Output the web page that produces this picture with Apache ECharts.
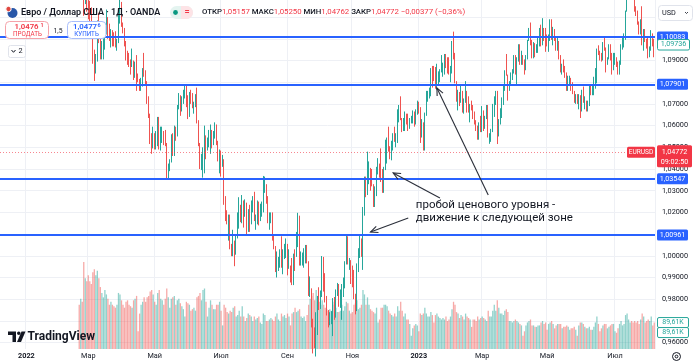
<!DOCTYPE html>
<html><head><meta charset="utf-8">
<script src="https://cdn.jsdelivr.net/npm/echarts@6/dist/echarts.min.js"></script>
<style>html,body{margin:0;padding:0;background:#fff}#c{width:696px;height:363px}</style>
</head><body><div id="c"></div>
<script>
// ---------- data ----------
const slotStart = '2021-12-09';   // first (empty) trading-day slot on the time axis
const slotCount = 434;
const dataStart = '2022-02-21';   // first daily candle
// daily candles [open, high, low, close], one line per month
const ohlc = [
// 2022-02
[1.1320,1.1365,1.1290,1.1310],[1.1310,1.1360,1.1290,1.1310],[1.1310,1.1345,1.1300,1.1307],[1.1307,1.1320,1.1106,1.1193],[1.1193,1.1275,1.1160,1.1270],[1.1270,1.1280,1.1125,1.1220],
// 2022-03
[1.1220,1.1235,1.1090,1.1125],[1.1125,1.1175,1.1060,1.1120],[1.1120,1.1145,1.1035,1.1065],[1.1065,1.1070,1.0885,1.0930],[1.0930,1.0950,1.0806,1.0855],[1.0855,1.0930,1.0840,1.0900],[1.0900,1.1085,1.0895,1.1075],[1.1075,1.1120,1.0980,1.0985],[1.0985,1.1050,1.0905,1.0910],[1.0910,1.0990,1.0905,1.0940],[1.0940,1.1005,1.0905,1.0955],[1.0955,1.1045,1.0950,1.1035],[1.1035,1.1135,1.1020,1.1095],[1.1095,1.1100,1.1000,1.1050],[1.1050,1.1070,1.0990,1.1015],[1.1015,1.1045,1.0960,1.1030],[1.1030,1.1040,1.0965,1.1000],[1.1000,1.1030,1.0965,1.0995],[1.0995,1.1035,1.0960,1.0985],[1.0985,1.1000,1.0945,1.0985],[1.0985,1.1135,1.0980,1.1085],[1.1085,1.1185,1.1070,1.1160],[1.1160,1.1170,1.1055,1.1065],
// 2022-04
[1.1065,1.1075,1.1025,1.1045],[1.1045,1.1050,1.0965,1.0970],[1.0970,1.0990,1.0900,1.0905],[1.0905,1.0945,1.0880,1.0900],[1.0900,1.0935,1.0870,1.0880],[1.0880,1.0905,1.0835,1.0875],[1.0875,1.0955,1.0870,1.0885],[1.0885,1.0900,1.0810,1.0830],[1.0830,1.0895,1.0820,1.0890],[1.0890,1.0925,1.0760,1.0825],[1.0825,1.0840,1.0800,1.0810],[1.0810,1.0815,1.0760,1.0780],[1.0780,1.0820,1.0760,1.0790],[1.0790,1.0865,1.0780,1.0850],[1.0850,1.0935,1.0825,1.0835],[1.0835,1.0855,1.0785,1.0800],[1.0800,1.0805,1.0700,1.0715],[1.0715,1.0735,1.0635,1.0640],[1.0640,1.0655,1.0515,1.0560],[1.0560,1.0565,1.0470,1.0500],[1.0500,1.0595,1.0495,1.0545],
// 2022-05
[1.0545,1.0565,1.0490,1.0505],[1.0505,1.0575,1.0490,1.0525],[1.0525,1.0640,1.0505,1.0620],[1.0620,1.0640,1.0490,1.0540],[1.0540,1.0595,1.0485,1.0550],[1.0550,1.0595,1.0520,1.0560],[1.0560,1.0575,1.0510,1.0530],[1.0530,1.0580,1.0505,1.0515],[1.0515,1.0520,1.0350,1.0380],[1.0380,1.0425,1.0350,1.0410],[1.0410,1.0445,1.0390,1.0435],[1.0435,1.0560,1.0430,1.0550],[1.0550,1.0565,1.0460,1.0465],[1.0465,1.0600,1.0460,1.0585],[1.0585,1.0595,1.0530,1.0560],[1.0560,1.0695,1.0550,1.0690],[1.0690,1.0750,1.0675,1.0735],[1.0735,1.0740,1.0645,1.0680],[1.0680,1.0735,1.0665,1.0725],[1.0725,1.0765,1.0700,1.0735],[1.0735,1.0787,1.0725,1.0780],[1.0780,1.0785,1.0685,1.0735],
// 2022-06
[1.0735,1.0740,1.0630,1.0650],[1.0650,1.0755,1.0640,1.0750],[1.0750,1.0765,1.0700,1.0720],[1.0720,1.0750,1.0680,1.0695],[1.0695,1.0710,1.0655,1.0705],[1.0705,1.0745,1.0685,1.0715],[1.0715,1.0775,1.0610,1.0615],[1.0615,1.0625,1.0505,1.0520],[1.0520,1.0520,1.0400,1.0410],[1.0410,1.0470,1.0395,1.0415],[1.0415,1.0500,1.0360,1.0445],[1.0445,1.0600,1.0380,1.0550],[1.0550,1.0555,1.0445,1.0495],[1.0495,1.0545,1.0485,1.0510],[1.0510,1.0580,1.0500,1.0535],[1.0535,1.0605,1.0470,1.0565],[1.0565,1.0580,1.0495,1.0520],[1.0520,1.0575,1.0510,1.0555],[1.0555,1.0615,1.0540,1.0585],[1.0585,1.0605,1.0510,1.0520],[1.0520,1.0530,1.0435,1.0445],[1.0445,1.0490,1.0380,1.0480],
// 2022-07
[1.0480,1.0485,1.0365,1.0425],[1.0425,1.0465,1.0410,1.0425],[1.0425,1.0445,1.0235,1.0265],[1.0265,1.0275,1.0160,1.0180],[1.0180,1.0210,1.0145,1.0160],[1.0160,1.0190,1.0070,1.0185],[1.0185,1.0190,1.0030,1.0040],[1.0040,1.0055,0.9998,1.0035],[1.0035,1.0120,0.9998,1.0060],[1.0060,1.0070,0.9952,1.0020],[1.0020,1.0095,1.0005,1.0085],[1.0085,1.0200,1.0080,1.0145],[1.0145,1.0270,1.0125,1.0225],[1.0225,1.0235,1.0155,1.0180],[1.0180,1.0280,1.0150,1.0230],[1.0230,1.0255,1.0130,1.0210],[1.0210,1.0260,1.0180,1.0225],[1.0225,1.0245,1.0095,1.0120],[1.0120,1.0215,1.0110,1.0200],[1.0200,1.0235,1.0110,1.0195],[1.0195,1.0255,1.0145,1.0220],
// 2022-08
[1.0220,1.0275,1.0200,1.0260],[1.0260,1.0295,1.0160,1.0165],[1.0165,1.0190,1.0120,1.0165],[1.0165,1.0255,1.0145,1.0245],[1.0245,1.0250,1.0140,1.0180],[1.0180,1.0240,1.0160,1.0195],[1.0195,1.0250,1.0180,1.0210],[1.0210,1.0368,1.0200,1.0300],[1.0300,1.0365,1.0290,1.0320],[1.0320,1.0330,1.0240,1.0260],[1.0260,1.0275,1.0150,1.0160],[1.0160,1.0200,1.0120,1.0170],[1.0170,1.0200,1.0150,1.0180],[1.0180,1.0200,1.0070,1.0090],[1.0090,1.0095,1.0030,1.0040],[1.0040,1.0045,0.9925,0.9940],[0.9940,1.0020,0.9900,0.9970],[0.9970,0.9995,0.9930,0.9970],[0.9970,1.0030,0.9945,0.9975],[0.9975,1.0090,0.9945,0.9965],[0.9965,1.0030,0.9915,1.0000],[1.0000,1.0055,0.9985,1.0015],[1.0015,1.0080,0.9990,1.0055],
// 2022-09
[1.0055,1.0055,0.9910,0.9945],[0.9945,1.0030,0.9940,0.9955],[0.9955,0.9955,0.9877,0.9930],[0.9930,0.9990,0.9865,0.9900],[0.9900,1.0010,0.9865,1.0010],[1.0010,1.0030,0.9930,1.0000],[1.0000,1.0110,0.9995,1.0045],[1.0045,1.0198,1.0040,1.0120],[1.0120,1.0185,0.9955,0.9970],[0.9970,1.0020,0.9955,0.9980],[0.9980,1.0015,0.9955,0.9995],[0.9995,1.0035,0.9945,1.0015],[1.0015,1.0050,0.9965,1.0025],[1.0025,1.0050,0.9965,0.9970],[0.9970,0.9975,0.9815,0.9835],[0.9835,0.9905,0.9810,0.9840],[0.9840,0.9850,0.9670,0.9690],[0.9690,0.9710,0.9550,0.9605],[0.9605,0.9670,0.9575,0.9595],[0.9595,0.9740,0.9536,0.9735],[0.9735,0.9815,0.9635,0.9815],[0.9815,0.9855,0.9750,0.9800],
// 2022-10
[0.9800,0.9840,0.9755,0.9825],[0.9825,0.9999,0.9810,0.9985],[0.9985,0.9995,0.9835,0.9885],[0.9885,0.9920,0.9785,0.9790],[0.9790,0.9815,0.9725,0.9740],[0.9740,0.9750,0.9670,0.9705],[0.9705,0.9740,0.9680,0.9705],[0.9705,0.9745,0.9685,0.9705],[0.9705,0.9805,0.9630,0.9780],[0.9780,0.9810,0.9705,0.9720],[0.9720,0.9845,0.9715,0.9840],[0.9840,0.9875,0.9815,0.9855],[0.9855,0.9870,0.9765,0.9775],[0.9775,0.9845,0.9760,0.9780],[0.9780,0.9870,0.9705,0.9860],[0.9860,0.9900,0.9810,0.9875],[0.9875,0.9975,0.9850,0.9965],[0.9965,1.0093,0.9960,1.0080],[1.0080,1.0090,0.9960,0.9965],[0.9965,0.9990,0.9935,0.9965],[0.9965,0.9980,0.9870,0.9885],
// 2022-11
[0.9885,0.9955,0.9855,0.9875],[0.9875,0.9935,0.9800,0.9820],[0.9820,0.9825,0.9730,0.9750],[0.9750,0.9965,0.9745,0.9960],[0.9960,1.0035,0.9925,1.0020],[1.0020,1.0095,0.9990,1.0075],[1.0075,1.0080,0.9995,1.0010],[1.0010,1.0225,0.9935,1.0210],[1.0210,1.0365,1.0185,1.0355],[1.0355,1.0365,1.0270,1.0325],[1.0325,1.0480,1.0280,1.0350],[1.0350,1.0435,1.0330,1.0395],[1.0395,1.0405,1.0300,1.0365],[1.0365,1.0400,1.0320,1.0325],[1.0325,1.0330,1.0225,1.0240],[1.0240,1.0320,1.0225,1.0305],[1.0305,1.0410,1.0275,1.0395],[1.0395,1.0450,1.0375,1.0410],[1.0410,1.0425,1.0360,1.0400],[1.0400,1.0495,1.0340,1.0340],[1.0340,1.0400,1.0290,1.0330],[1.0330,1.0410,1.0290,1.0405],
// 2022-12
[1.0405,1.0535,1.0395,1.0525],[1.0525,1.0545,1.0425,1.0535],[1.0535,1.0595,1.0480,1.0490],[1.0490,1.0505,1.0445,1.0470],[1.0470,1.0530,1.0440,1.0505],[1.0505,1.0565,1.0485,1.0555],[1.0555,1.0595,1.0525,1.0530],[1.0530,1.0565,1.0500,1.0535],[1.0535,1.0675,1.0520,1.0630],[1.0630,1.0695,1.0615,1.0680],[1.0680,1.0735,1.0625,1.0625],[1.0625,1.0635,1.0570,1.0585],[1.0585,1.0635,1.0575,1.0605],[1.0605,1.0665,1.0575,1.0625],[1.0625,1.0655,1.0605,1.0610],[1.0610,1.0655,1.0575,1.0595],[1.0595,1.0635,1.0585,1.0615],[1.0615,1.0645,1.0610,1.0640],[1.0640,1.0670,1.0610,1.0640],[1.0640,1.0665,1.0595,1.0610],[1.0610,1.0675,1.0605,1.0660],[1.0660,1.0715,1.0650,1.0705],
// 2023-01
[1.0705,1.0710,1.0655,1.0670],[1.0670,1.0685,1.0520,1.0545],[1.0545,1.0630,1.0545,1.0605],[1.0605,1.0615,1.0485,1.0520],[1.0520,1.0660,1.0485,1.0645],[1.0645,1.0760,1.0645,1.0730],[1.0730,1.0760,1.0710,1.0735],[1.0735,1.0775,1.0725,1.0760],[1.0760,1.0865,1.0735,1.0850],[1.0850,1.0875,1.0775,1.0830],[1.0830,1.0875,1.0805,1.0820],[1.0820,1.0870,1.0770,1.0790],[1.0790,1.0885,1.0765,1.0795],[1.0795,1.0850,1.0785,1.0830],[1.0830,1.0860,1.0800,1.0855],[1.0855,1.0925,1.0845,1.0870],[1.0870,1.0890,1.0825,1.0885],[1.0885,1.0930,1.0835,1.0915],[1.0915,1.0930,1.0865,1.0890],[1.0890,1.0915,1.0840,1.0870],[1.0870,1.0915,1.0835,1.0845],[1.0845,1.0875,1.0800,1.0860],
// 2023-02
[1.0860,1.0990,1.0840,1.0990],[1.0990,1.1033,1.0905,1.0910],[1.0910,1.0935,1.0795,1.0795],[1.0795,1.0805,1.0710,1.0725],[1.0725,1.0765,1.0670,1.0725],[1.0725,1.0755,1.0690,1.0710],[1.0710,1.0790,1.0705,1.0740],[1.0740,1.0760,1.0660,1.0680],[1.0680,1.0725,1.0655,1.0725],[1.0725,1.0805,1.0705,1.0740],[1.0740,1.0760,1.0660,1.0685],[1.0685,1.0735,1.0660,1.0670],[1.0670,1.0700,1.0615,1.0695],[1.0695,1.0715,1.0670,1.0685],[1.0685,1.0695,1.0630,1.0645],[1.0645,1.0665,1.0605,1.0605],[1.0605,1.0625,1.0575,1.0595],[1.0595,1.0600,1.0535,1.0545],[1.0545,1.0615,1.0535,1.0610],[1.0610,1.0645,1.0570,1.0575],
// 2023-03
[1.0575,1.0690,1.0570,1.0665],[1.0665,1.0670,1.0575,1.0600],[1.0600,1.0645,1.0585,1.0635],[1.0635,1.0695,1.0630,1.0685],[1.0685,1.0695,1.0545,1.0545],[1.0545,1.0565,1.0516,1.0545],[1.0545,1.0585,1.0525,1.0580],[1.0580,1.0700,1.0570,1.0640],[1.0640,1.0735,1.0640,1.0730],[1.0730,1.0760,1.0695,1.0735],[1.0735,1.0760,1.0515,1.0575],[1.0575,1.0630,1.0550,1.0610],[1.0610,1.0680,1.0605,1.0670],[1.0670,1.0730,1.0635,1.0720],[1.0720,1.0790,1.0695,1.0770],[1.0770,1.0855,1.0760,1.0855],[1.0855,1.0930,1.0830,1.0830],[1.0830,1.0835,1.0715,1.0760],[1.0760,1.0805,1.0760,1.0800],[1.0800,1.0845,1.0785,1.0845],[1.0845,1.0860,1.0810,1.0845],[1.0845,1.0925,1.0840,1.0905],[1.0905,1.0925,1.0835,1.0840],
// 2023-04
[1.0840,1.0915,1.0790,1.0900],[1.0900,1.0975,1.0895,1.0955],[1.0955,1.0975,1.0880,1.0905],[1.0905,1.0945,1.0880,1.0920],[1.0920,1.0925,1.0880,1.0900],[1.0900,1.0905,1.0835,1.0860],[1.0860,1.0925,1.0855,1.0915],[1.0915,1.0995,1.0905,1.0995],[1.0995,1.1050,1.0990,1.1045],[1.1045,1.1075,1.0970,1.0990],[1.0990,1.0995,1.0910,1.0925],[1.0925,1.0985,1.0910,1.0970],[1.0970,1.0980,1.0915,1.0955],[1.0955,1.0975,1.0935,1.0965],[1.0965,1.1010,1.0935,1.0990],[1.0990,1.1050,1.0965,1.1050],[1.1050,1.1065,1.0965,1.0975],[1.0975,1.1095,1.0970,1.1040],[1.1040,1.1050,1.0990,1.1030],[1.1030,1.1050,1.0940,1.1020],
// 2023-05
[1.1020,1.1020,1.0965,1.0975],[1.0975,1.1020,1.0940,1.1000],[1.1000,1.1090,1.0990,1.1065],[1.1065,1.1090,1.0995,1.1010],[1.1010,1.1055,1.0970,1.1020],[1.1020,1.1045,1.0990,1.1005],[1.1005,1.1010,1.0945,1.0960],[1.0960,1.1005,1.0945,1.0980],[1.0980,1.0990,1.0905,1.0915],[1.0915,1.0925,1.0845,1.0850],[1.0850,1.0885,1.0835,1.0870],[1.0870,1.0905,1.0845,1.0860],[1.0860,1.0875,1.0820,1.0840],[1.0840,1.0845,1.0760,1.0770],[1.0770,1.0830,1.0760,1.0805],[1.0805,1.0830,1.0790,1.0810],[1.0810,1.0820,1.0760,1.0770],[1.0770,1.0800,1.0745,1.0750],[1.0750,1.0760,1.0705,1.0725],[1.0725,1.0745,1.0700,1.0725],[1.0725,1.0745,1.0700,1.0715],[1.0715,1.0745,1.0675,1.0735],[1.0735,1.0740,1.0635,1.0690],
// 2023-06
[1.0690,1.0765,1.0665,1.0760],[1.0760,1.0780,1.0705,1.0710],[1.0710,1.0735,1.0675,1.0715],[1.0715,1.0715,1.0665,1.0695],[1.0695,1.0715,1.0665,1.0700],[1.0700,1.0790,1.0690,1.0780],[1.0780,1.0790,1.0740,1.0750],[1.0750,1.0790,1.0740,1.0755],[1.0755,1.0825,1.0740,1.0790],[1.0790,1.0865,1.0770,1.0830],[1.0830,1.0955,1.0795,1.0945],[1.0945,1.0970,1.0925,1.0940],[1.0940,1.0945,1.0900,1.0920],[1.0920,1.0935,1.0895,1.0915],[1.0915,1.0985,1.0900,1.0975],[1.0975,1.1010,1.0945,1.0955],[1.0955,1.0960,1.0845,1.0895],[1.0895,1.0915,1.0880,1.0905],[1.0905,1.0975,1.0905,1.0960],[1.0960,1.0975,1.0900,1.0910],[1.0910,1.0935,1.0835,1.0865],[1.0865,1.0935,1.0855,1.0910],
// 2023-07
[1.0910,1.0935,1.0880,1.0910],[1.0910,1.0915,1.0870,1.0880],[1.0880,1.0895,1.0835,1.0850],[1.0850,1.0900,1.0835,1.0890],[1.0890,1.0975,1.0880,1.0965],[1.0965,1.1005,1.0950,1.0970],[1.0970,1.1025,1.0960,1.1010],[1.1010,1.1130,1.0995,1.1130],[1.1130,1.1225,1.1125,1.1225],[1.1225,1.1245,1.1205,1.1230],[1.1230,1.1245,1.1215,1.1235],[1.1235,1.1276,1.1215,1.1230],[1.1230,1.1235,1.1180,1.1200],[1.1200,1.1225,1.1125,1.1130],[1.1130,1.1150,1.1105,1.1125],[1.1125,1.1130,1.1065,1.1065],[1.1065,1.1080,1.1020,1.1055],[1.1055,1.1090,1.1020,1.1085],[1.1085,1.1150,1.0970,1.0975],[1.0975,1.1045,1.0945,1.1015],[1.1015,1.1045,1.0985,1.0995],
// 2023-08
[1.0995,1.1000,1.0955,1.0985],[1.0985,1.1005,1.0910,1.0935],[1.0935,1.0965,1.0915,1.0945],[1.0945,1.1040,1.0945,1.1005],[1.1005,1.1025,1.0965,1.1000],[1.1000,1.1000,1.0915,1.0955]
];
// daily volume, thousands
const volumes = [
150,170,160,295,240,230,
250,230,220,260,270,250,265,240,210,190,175,200,185,170,150,160,150,145,140,150,190,185,165,
150,140,160,165,150,145,140,165,170,180,60,120,150,160,175,160,175,180,195,200,185,
160,150,190,200,170,165,150,170,205,175,140,170,175,180,150,165,170,155,145,135,110,160,
155,150,130,135,140,130,175,180,190,165,200,205,160,110,140,165,150,135,135,150,150,160,
130,80,150,140,125,120,130,125,140,145,110,115,130,110,145,110,95,105,120,115,110,
95,110,100,105,110,90,85,120,115,95,95,100,105,100,95,110,120,100,95,120,110,115,105,
120,110,80,120,125,140,125,130,135,110,105,110,95,115,150,170,180,190,165,200,170,160,
150,165,150,140,135,130,135,130,160,150,140,125,125,130,150,130,145,160,155,130,120,
125,150,155,165,135,140,150,200,185,150,175,150,135,130,125,120,140,90,100,140,140,150,
150,145,130,120,115,110,120,110,145,130,160,130,110,120,100,100,85,45,70,80,85,80,
60,120,115,120,140,120,110,110,125,115,90,115,120,110,105,100,105,100,110,95,100,110,
135,160,150,125,120,105,115,110,100,120,110,105,100,75,100,100,95,110,100,105,
110,105,100,95,130,110,110,130,150,130,165,140,120,120,115,130,135,125,95,95,90,95,100,
95,90,85,80,45,60,80,90,95,100,80,80,75,75,80,80,90,95,85,90,
65,85,90,95,85,70,80,85,85,85,70,75,75,80,75,65,70,70,75,65,45,80,90,
90,85,75,70,70,75,65,65,75,90,110,85,60,70,80,85,85,70,75,80,85,85,
60,55,70,85,95,80,85,115,120,100,90,95,90,95,90,95,85,100,120,110,90,
95,100,95,110,80,90
];
const levels = [1.10083, 1.07901, 1.03547, 1.00961];
const lastPrice = 1.04772;
const lastTime = '09:02:50';
const visibleClose = 1.09736;
const volumeMark = 89.61;
const priceMin = 0.95705, priceMax = 1.11788, volumeMax = 505;
const priceTicks = [0.96,0.97,0.98,0.99,1.00,1.01,1.02,1.03,1.04,1.05,1.06,1.07,1.08,1.09,1.10,1.11];
const priceLabels = [0.96,0.97,0.98,0.99,1.00,1.02,1.03,1.04,1.05,1.06,1.07,1.09];
const monthLabels = {'2022-01-03':'2022','2022-03-01':'Мар','2022-05-02':'Май','2022-07-01':'Июл','2022-09-01':'Сен','2022-11-01':'Ноя','2023-01-02':'2023','2023-03-01':'Мар','2023-05-01':'Май','2023-07-03':'Июл'};
const arrowTails = [['2023-03-07',1.02802],['2023-01-20',1.02664],['2022-12-22',1.01742]];
const arrowTips  = [['2023-01-18',1.07733],['2022-12-08',1.03816],['2022-11-17',1.01097]];
const noteAnchor = ['2022-12-29',1.02341];
const noteLines = ['пробой ценового уровня -','движение к следующей зоне'];

// ---------- build ----------
const FONT = 'Roboto, "Noto Sans", "DejaVu Sans", sans-serif';
const UP = '#26a69a', DOWN = '#ef5350';
const dates = [];
(function(){ const p = slotStart.split('-').map(Number); const d = new Date(Date.UTC(p[0], p[1]-1, p[2]));
  while (dates.length < slotCount) { const wd = d.getUTCDay(); if (wd !== 0 && wd !== 6) dates.push(d.toISOString().slice(0,10)); d.setUTCDate(d.getUTCDate()+1); } })();
const first = dates.indexOf(dataStart);
const candleData = dates.map((d,i) => { const k = i - first; if (k < 0 || k >= ohlc.length) return '-'; const q = ohlc[k]; return [q[0], q[3], q[2], q[1]]; });
const volData = dates.map((d,i) => { const k = i - first; if (k < 0 || k >= volumes.length) return '-';
  const q = ohlc[k]; return {value: volumes[k], itemStyle: {color: q[3] >= q[0] ? 'rgba(38,166,154,0.5)' : 'rgba(239,83,80,0.5)'}}; });
const fmt = v => v.toFixed(5).replace('.', ',');

const chart = echarts.init(document.getElementById('c'), null, {renderer: 'canvas'});
chart.setOption({
  animation: false,
  backgroundColor: '#ffffff',
  textStyle: {fontFamily: FONT},
  grid: [{left: 0, top: 0, width: 655, height: 349}, {left: 0, top: 200, width: 655, height: 149}],
  xAxis: [
    {type: 'category', gridIndex: 0, data: dates, boundaryGap: true, axisLine: {show: false}, axisTick: {show: false}, axisLabel: {show: false},
     splitLine: {show: true, interval: (i, v) => !!monthLabels[v], lineStyle: {color: '#eef0f5', width: 1}}},
    {type: 'category', gridIndex: 1, data: dates, boundaryGap: true, axisLine: {show: false}, axisTick: {show: false}, splitLine: {show: false},
     axisLabel: {show: true, interval: (i, v) => !!monthLabels[v], margin: 4, fontSize: 7.3, color: '#131722', fontFamily: FONT,
       formatter: v => { const t = monthLabels[v]; if (!t) return ''; return /^\d/.test(t) ? '{y|' + t + '}' : t; },
       rich: {y: {fontWeight: 'bold', fontSize: 7.3, color: '#131722', fontFamily: FONT}}}}
  ],
  yAxis: [
    {type: 'value', gridIndex: 0, position: 'right', min: priceMin, max: priceMax, axisLine: {show: false},
     axisTick: {show: false, customValues: priceTicks},
     axisLabel: {customValues: priceLabels, formatter: v => fmt(v), fontSize: 7.3, color: '#131722', margin: 7, fontFamily: FONT},
     splitLine: {show: true, lineStyle: {color: '#eef0f5', width: 1}}},
    {type: 'value', gridIndex: 1, min: 0, max: volumeMax, show: false}
  ],
  series: [
    {type: 'bar', name: 'vol', xAxisIndex: 1, yAxisIndex: 1, data: volData, barCategoryGap: '15%', z: 1, silent: true},
    {type: 'candlestick', name: 'EURUSD', xAxisIndex: 0, yAxisIndex: 0, data: candleData, barWidth: 0.6, clip: true, z: 3, silent: true,
     itemStyle: {color: UP, color0: DOWN, borderColor: UP, borderColor0: DOWN, borderWidth: 1},
     markLine: {silent: true, precision: 5, symbol: ['none', 'none'], label: {show: false}, animation: false,
       data: levels.map(v => ({yAxis: v, lineStyle: {color: '#2962ff', width: 2, type: 'solid'}}))
         .concat([{yAxis: lastPrice, lineStyle: {color: '#f23645', width: 1, type: [1, 2], opacity: 0.6}}])}}
  ]
});

// ---------- overlays (positions from the chart's own scales) ----------
const yP = v => chart.convertToPixel({yAxisIndex: 0}, v);
const yV = v => chart.convertToPixel({yAxisIndex: 1}, v);
const xyP = (d, p) => chart.convertToPixel({gridIndex: 0}, [d, p]);
const T = (x, y, text, o) => ({type: 'text', z: 101, style: Object.assign({x: x, y: y, text: text, fill: '#131722', fontSize: 8, fontFamily: FONT, align: 'left', verticalAlign: 'middle'}, o || {})});
const R = (x, y, w, h, o) => { o = o || {}; return {type: 'rect', z: 100, shape: {x: x, y: y, width: w, height: h, r: o.r || 0}, style: {fill: o.fill || '#fff', stroke: o.stroke || null, lineWidth: o.lw || 1}}; };
const g = [];
// header
g.push({type: 'circle', z: 100, shape: {cx: 12.5, cy: 13, r: 5}, style: {fill: '#2857a8'}});
g.push({type: 'circle', z: 101, shape: {cx: 8.5, cy: 9, r: 2.7}, style: {fill: '#e0463f', stroke: '#fff', lineWidth: 1}});
g.push(T(21, 12.5, 'Евро / Доллар США · 1Д · OANDA', {fontSize: 9, fontWeight: 600}));
g.push(R(170, 6, 23, 13, {fill: '#e4f4f0', r: 6.5}));
g.push(R(181, 6, 12, 13, {fill: '#fde3e6', r: [0, 6.5, 6.5, 0]}));
g.push({type: 'circle', z: 101, shape: {cx: 175.5, cy: 12.5, r: 2.4}, style: {fill: '#089981'}});
g.push(T(187, 12.3, '=', {fill: '#f23645', fontSize: 9, fontWeight: 'bold', align: 'center'}));
g.push({type: 'text', z: 101, style: {x: 202, y: 12.5, verticalAlign: 'middle', fontFamily: FONT, fontSize: 7.8, fill: '#131722',
  text: '{l|ОТКР}{v|1,05157} {l|МАКС}{v|1,05250} {l|МИН}{v|1,04762} {l|ЗАКР}{v|1,04772} {v|−0,00377 (−0,36%)}',
  rich: {l: {fill: '#131722', fontSize: 7.8, fontFamily: FONT, fontWeight: 500}, v: {fill: '#f23645', fontSize: 7.8, fontFamily: FONT}}}});
// sell / buy
g.push(R(5.5, 21.5, 43, 17, {stroke: '#f5a3aa', r: 4}));
g.push(T(26.5, 27, '1,0476', {fill: '#f23645', fontSize: 7.8, fontWeight: 600, align: 'center'}));
g.push(T(42, 25.5, '1', {fill: '#f23645', fontSize: 5.5, fontWeight: 600, align: 'center'}));
g.push(T(27.5, 34.5, 'ПРОДАТЬ', {fill: '#f23645', fontSize: 6.3, align: 'center'}));
g.push(T(58, 31, '1,5', {fontSize: 6.8, align: 'center'}));
g.push(R(67.5, 21.5, 38.5, 17, {stroke: '#a8bdfb', r: 4}));
g.push(T(85, 27, '1,0477', {fill: '#2962ff', fontSize: 7.8, fontWeight: 600, align: 'center'}));
g.push(T(99, 25.5, '6', {fill: '#2962ff', fontSize: 5.5, fontWeight: 600, align: 'center'}));
g.push(T(86.5, 34.5, 'КУПИТЬ', {fill: '#2962ff', fontSize: 6.3, align: 'center'}));
g.push(R(8.5, 45.5, 17, 12, {stroke: '#e0e3eb', r: 2}));
g.push({type: 'polyline', z: 101, shape: {points: [[11.5, 50], [13.5, 52.3], [15.5, 50]]}, style: {stroke: '#131722', lineWidth: 1, fill: null}});
g.push(T(18.5, 51.5, '2', {fontSize: 7.3}));
// currency box
g.push(R(658.5, 5.5, 34, 15, {stroke: '#e0e3eb', r: 3}));
g.push(T(662, 13, 'USD', {fontSize: 7.3}));
g.push({type: 'polyline', z: 101, shape: {points: [[685, 12], [686.5, 13.5], [688, 12]]}, style: {stroke: '#131722', lineWidth: 0.8, fill: null}});
// price-axis tags
levels.forEach(v => { const y = yP(v); g.push(R(657, y - 5.5, 31, 11, {fill: '#2962ff', r: 1.5})); g.push(T(672.5, y, fmt(v), {fill: '#ffffff', fontSize: 7.2, align: 'center'})); });
(function(){ const y = yP(visibleClose); g.push(R(657.5, y - 5, 32, 10.5, {stroke: '#26a69a', r: 1.5})); g.push(T(673.5, y, fmt(visibleClose), {fill: '#26a69a', fontSize: 7.2, align: 'center'})); })();
(function(){ const y = yP(lastPrice);
  g.push(R(627, y - 5.5, 28, 11, {fill: '#f23645', r: 1.5})); g.push(T(641, y, 'EURUSD', {fill: '#fff', fontSize: 6.6, align: 'center'}));
  g.push(R(657, y - 7, 35, 22, {fill: '#f23645', r: 1.5}));
  g.push(T(674.5, y, fmt(lastPrice), {fill: '#fff', fontSize: 7.2, align: 'center'}));
  g.push(T(674.5, y + 10, lastTime, {fill: '#fff', fontSize: 7.2, align: 'center'})); })();
(function(){ const y = yV(volumeMark); const lab = volumeMark.toFixed(2).replace('.', ',') + 'K';
  [0, 10].forEach(dy => { g.push(R(657.5, y - 5 + dy, 31, 10, {stroke: '#26a69a', r: 1.5})); g.push(T(673, y + dy, lab, {fill: '#26a69a', fontSize: 7, align: 'center'})); }); })();
// gear
g.push({type: 'circle', z: 101, shape: {cx: 676.5, cy: 356.5, r: 4}, style: {fill: null, stroke: '#131722', lineWidth: 1}});
g.push({type: 'circle', z: 101, shape: {cx: 676.5, cy: 356.5, r: 1.4}, style: {fill: null, stroke: '#131722', lineWidth: 1}});
// watermark
g.push({type: 'polygon', z: 101, shape: {points: [[8, 331.5], [16, 331.5], [16, 342], [12.5, 342], [12.5, 335], [8, 335]]}, style: {fill: '#131722'}});
g.push({type: 'circle', z: 101, shape: {cx: 18.8, cy: 333.3, r: 1.8}, style: {fill: '#131722'}});
g.push({type: 'polygon', z: 101, shape: {points: [[21.5, 331.5], [25.5, 331.5], [21, 342], [17, 342]]}, style: {fill: '#131722'}});
g.push(T(27.5, 337, 'TradingView', {fontSize: 12, fontWeight: 'bold'}));
// annotation arrows and note
arrowTails.forEach((t, i) => {
  const a = xyP(t[0], t[1]), b = xyP(arrowTips[i][0], arrowTips[i][1]);
  const ang = Math.atan2(b[1] - a[1], b[0] - a[0]), L = 8, s = 0.42;
  g.push({type: 'line', z: 102, shape: {x1: a[0], y1: a[1], x2: b[0], y2: b[1]}, style: {stroke: '#2a2e39', lineWidth: 1.1}});
  g.push({type: 'polyline', z: 102, shape: {points: [[b[0] - L * Math.cos(ang - s), b[1] - L * Math.sin(ang - s)], [b[0], b[1]], [b[0] - L * Math.cos(ang + s), b[1] - L * Math.sin(ang + s)]]},
    style: {stroke: '#2a2e39', lineWidth: 1.1, fill: null}});
});
(function(){ const p = xyP(noteAnchor[0], noteAnchor[1]);
  noteLines.forEach((s, i) => g.push(T(p[0], p[1] + i * 13.5, s, {fontSize: 11.5, fill: '#131722'}))); })();
chart.setOption({graphic: g});
</script>
</body></html>
